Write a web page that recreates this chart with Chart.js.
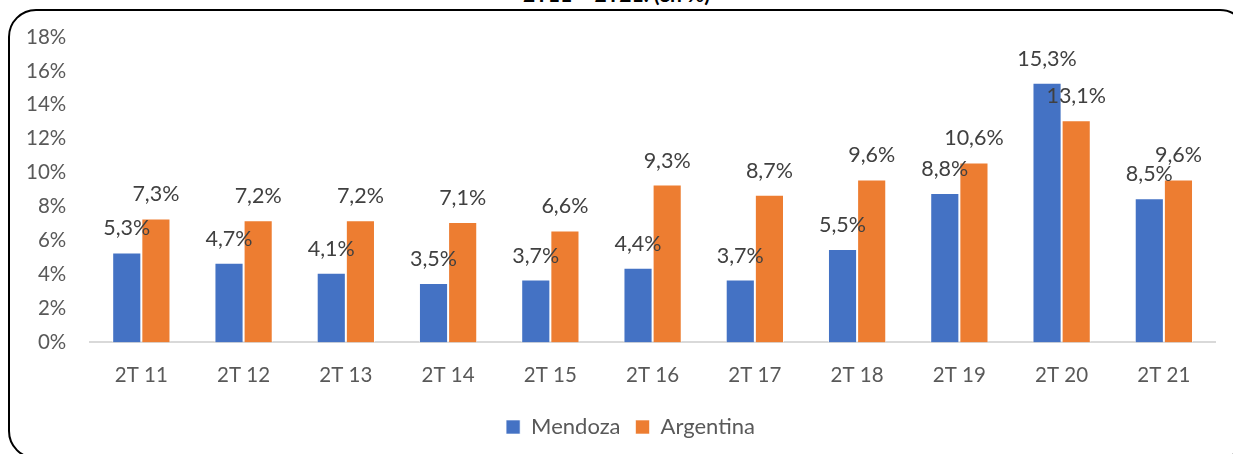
<!DOCTYPE html>
<html>
<head>
<meta charset="utf-8">
<script src="https://cdn.jsdelivr.net/npm/chart.js@4"></script>
<style>
  html, body { margin: 0; padding: 0; background: #fff; overflow: hidden; }
  #wrap { position: relative; width: 1233px; height: 454px; }
  #frame {
    position: absolute; left: 8px; top: 9px; width: 1240px; height: 450px;
    border: 2.5px solid #000; border-radius: 28px; box-sizing: border-box;
  }
  #title {
    position: absolute; left: 0; width: 1233px; top: -19px; text-align: center;
    font: bold 21px Lato, sans-serif; color: #000;
  }
  canvas { position: absolute; left: 0; top: 0; }
</style>
</head>
<body>
<div id="wrap">
  <div id="title">2T11 – 2T21. (en %)</div>
  <div id="frame"></div>
  <canvas id="myChart" width="1233" height="454"></canvas>
</div>
<script>
var categories = ["2T 11", "2T 12", "2T 13", "2T 14", "2T 15", "2T 16", "2T 17", "2T 18", "2T 19", "2T 20", "2T 21"];
var mendoza = [5.3, 4.7, 4.1, 3.5, 3.7, 4.4, 3.7, 5.5, 8.8, 15.3, 8.5];
var argentina = [7.3, 7.2, 7.2, 7.1, 6.6, 9.3, 8.7, 9.6, 10.6, 13.1, 9.6];
var yTicks = [0, 2, 4, 6, 8, 10, 12, 14, 16, 18];
var barColors = ["#4472C4", "#ED7D31"];

var textGrey = "#595959";

// labels above each bar, comma decimals like the original
var valueLabels = {
  id: "valueLabels",
  afterLayout: function (chart) {
    // legend sits a bit right of centre in the original
    chart.legend.left += 18;
    chart.legend.right += 18;
  },
  afterDatasetsDraw: function (chart) {
    var ctx = chart.ctx;
    ctx.save();
    ctx.font = "21.5px Lato";
    ctx.fillStyle = "#404040";
    ctx.textAlign = "center";
    ctx.textBaseline = "middle";
    chart.data.datasets.forEach(function (ds, i) {
      chart.getDatasetMeta(i).data.forEach(function (bar, j) {
        var txt = ds.data[j].toFixed(1).replace(".", ",") + "%";
        ctx.fillText(txt, bar.x, bar.y - 24);
      });
    });
    ctx.restore();
  }
};

new Chart("myChart", {
  type: "bar",
  data: {
    labels: categories,
    datasets: [
      {
        label: "Mendoza",
        data: mendoza,
        backgroundColor: barColors[0],
        borderColor: "rgba(255,255,255,0.6)",
        borderWidth: 1,
      },
      {
        label: "Argentina",
        data: argentina,
        backgroundColor: barColors[1],
        borderColor: "rgba(255,255,255,0.6)",
        borderWidth: 1,
      },
    ],
  },
  options: {
    responsive: false,
    animation: false,
    layout: { padding: { left: 10, right: 18, top: 37, bottom: 6 } },
    datasets: { bar: { categoryPercentage: 0.57, barPercentage: 1 } },
    scales: {
      x: {
        grid: { display: false },
        border: { display: true, color: "#D9D9D9", width: 2 },
        ticks: { color: textGrey, font: { family: "Lato", size: 20.5 }, padding: 13 },
      },
      y: {
        min: 0,
        max: 18,
        afterBuildTicks: function (axis) {
          axis.ticks = yTicks.map(function (v) { return { value: v }; });
        },
        grid: { display: false },
        border: { display: false },
        ticks: {
          color: textGrey,
          font: { family: "Lato", size: 20.5 },
          padding: 16,
          callback: function (v) { return v + "%"; },
        },
      },
    },
    plugins: {
      legend: {
        position: "bottom",
        labels: {
          color: textGrey,
          font: { family: "Lato", size: 22 },
          boxWidth: 14,
          boxHeight: 14,
          padding: 15,
        },
      },
      tooltip: { enabled: false },
    },
  },
  plugins: [valueLabels],
});
</script>
</body>
</html>
